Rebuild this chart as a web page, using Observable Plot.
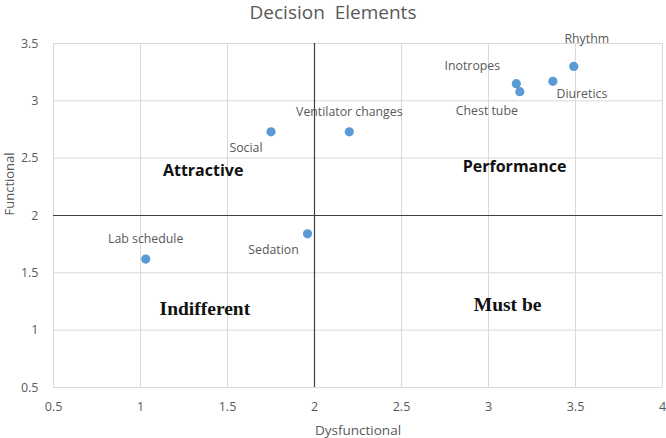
<!DOCTYPE html>
<html>
<head>
<meta charset="utf-8">
<script src="https://cdn.jsdelivr.net/npm/d3@7"></script>
<script src="https://cdn.jsdelivr.net/npm/@observablehq/plot@0.6"></script>
<style>
  html, body { margin: 0; padding: 0; background: #fff; }
  #title { width: 666px; height: 24px; line-height: 25px; text-align: center; font-family: "Open Sans", sans-serif; font-size: 19px; color: #595959; white-space: pre; overflow: visible; }
</style>
</head>
<body>
<div id="title">Decision  Elements</div>
<div id="chart"></div>
<script>
// ---- data ----
const names = ["Rhythm", "Diuretics", "Inotropes", "Chest tube", "Ventilator changes", "Social", "Sedation", "Lab schedule"];
const dysfunctional = [3.49, 3.37, 3.16, 3.18, 2.20, 1.75, 1.96, 1.03];
const functional = [3.30, 3.17, 3.15, 3.08, 2.73, 2.73, 1.84, 1.62];
const xTicks = [0.5, 1, 1.5, 2, 2.5, 3, 3.5, 4];
const yTicks = [0.5, 1, 1.5, 2, 2.5, 3, 3.5];
const quadrantLabels = ["Attractive", "Performance", "Indifferent", "Must be"];
const quadrantX = [1.36, 3.15, 1.37, 3.11];
const quadrantY = [2.39, 2.42, 1.19, 1.22];
const thresholdX = 2;
const thresholdY = 2;

// label placement (styling, screen pixels)
const labelOffset = {
  "Rhythm": [13, -27],
  "Diuretics": [29, 13],
  "Inotropes": [-44, -18],
  "Chest tube": [-33, 19],
  "Ventilator changes": [0, -20],
  "Social": [-25, 16],
  "Sedation": [-34, 16],
  "Lab schedule": [0, -20]
};

const points = names.map((n, i) => ({name: n, x: dysfunctional[i], y: functional[i]}));
const quads = quadrantLabels.map((q, i) => ({name: q, x: quadrantX[i], y: quadrantY[i], serif: i >= 2}));

const gray = "#595959";
const labelMarks = points.map(p => Plot.text([p], {
  x: "x", y: "y", text: "name",
  dx: labelOffset[p.name][0], dy: labelOffset[p.name][1],
  fill: gray, fontSize: 12.3, textAnchor: "middle", lineAnchor: "middle"
}));

const chart = Plot.plot({
  width: 666,
  height: 414,
  marginTop: 19,
  marginBottom: 51,
  marginLeft: 53,
  marginRight: 4,
  style: {fontFamily: "'Open Sans', sans-serif", fontSize: "12.5px", background: "#fff"},
  x: {domain: [0.5, 4], ticks: xTicks},
  y: {domain: [0.5, 3.5], ticks: yTicks},
  marks: [
    Plot.gridX(xTicks, {stroke: "#d9d9d9", strokeOpacity: 1, strokeWidth: 1}),
    Plot.gridY(yTicks, {stroke: "#d9d9d9", strokeOpacity: 1, strokeWidth: 1}),
    Plot.axisX(xTicks, {tickSize: 0, tickPadding: 15, fill: gray, label: null, fontSize: 12.5, tickFormat: d => String(d)}),
    Plot.axisY(yTicks, {tickSize: 0, tickPadding: 15, fill: gray, label: null, fontSize: 12.5, tickFormat: d => String(d)}),
    Plot.ruleX([thresholdX], {stroke: "#404040", strokeWidth: 1.2}),
    Plot.ruleY([thresholdY], {stroke: "#404040", strokeWidth: 1.2}),
    Plot.dot(points, {x: "x", y: "y", r: 4.6, fill: "#5b9bd5", stroke: "none"}),
    ...labelMarks,
    Plot.text(quads.filter(d => !d.serif), {x: "x", y: "y", text: "name", fontWeight: "bold", fontSize: 16, fill: "#111",
      fontFamily: "'Open Sans', sans-serif", textAnchor: "middle", lineAnchor: "middle"}),
    Plot.text(quads.filter(d => d.serif), {x: "x", y: "y", text: "name", fontWeight: "bold", fontSize: 19.5, fill: "#111",
      fontFamily: "'Liberation Serif', 'DejaVu Serif', serif", textAnchor: "middle", lineAnchor: "middle"}),
    Plot.text(["Dysfunctional"], {frameAnchor: "bottom", dy: 43, fill: gray, fontSize: 13.5, lineAnchor: "middle"}),
    Plot.text(["Functional"], {frameAnchor: "left", dx: -44, rotate: -90, fill: gray, fontSize: 13, lineAnchor: "middle"})
  ]
});
document.getElementById("chart").appendChild(chart);
</script>
</body>
</html>
